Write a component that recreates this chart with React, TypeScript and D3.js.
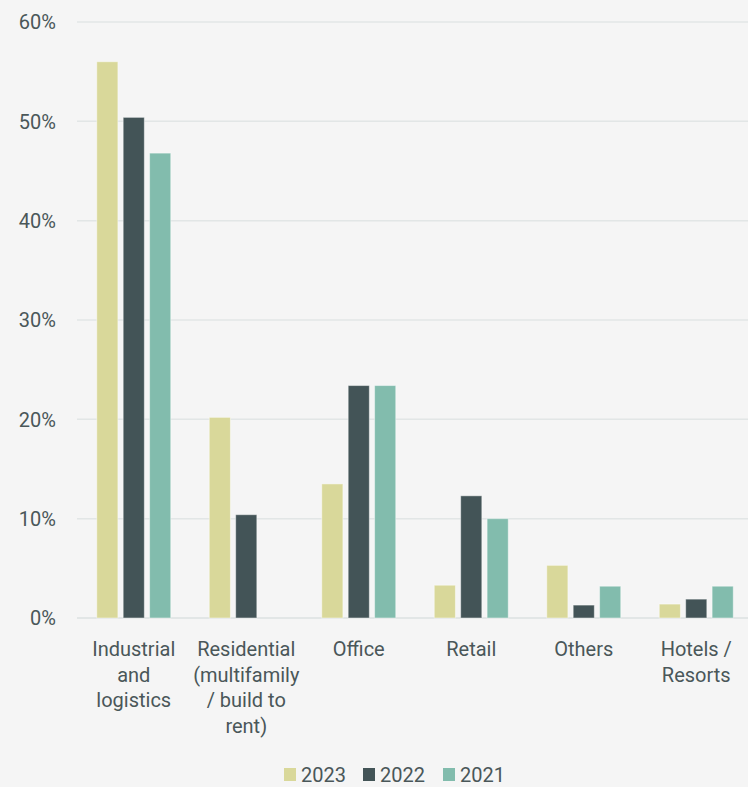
import React from "react";
import * as d3 from "d3";

const categories = [
  ["Industrial", "and", "logistics"],
  ["Residential", "(multifamily", "/ build to", "rent)"],
  ["Office"],
  ["Retail"],
  ["Others"],
  ["Hotels /", "Resorts"],
];
const seriesNames = ["2023", "2022", "2021"];
const values2023 = [56.0, 20.2, 13.5, 3.3, 5.3, 1.4];
const values2022 = [50.4, 10.4, 23.4, 12.3, 1.3, 1.9];
const values2021 = [46.8, 0, 23.4, 10.0, 3.2, 3.2];
const yTicks = [0, 10, 20, 30, 40, 50, 60];
const colors = ["#d9d89a", "#435457", "#82bcad"];

const W = 748;
const H = 787;
const FONT = "Roboto, 'Noto Sans', sans-serif";
const TEXT = "#4a5759";

export default function App() {
  const series = [values2023, values2022, values2021];
  const x0 = d3
    .scaleBand<number>()
    .domain(categories.map((_, i) => i))
    .range([77.5, 752.5])
    .paddingInner(0)
    .paddingOuter(0);
  const x1 = d3
    .scaleBand<number>()
    .domain([0, 1, 2])
    .range([-37, 37])
    .paddingInner(0.2);
  const y = d3.scaleLinear().domain([0, 60]).range([618, 22]);

  return (
    <svg
      width={W}
      height={H}
      style={{ position: "absolute", left: 0, top: 0, display: "block" }}
      fontFamily={FONT}
    >
      <rect x={0} y={0} width={W} height={H} fill="#f5f5f5" />
      {yTicks.map((t) => (
        <g key={t}>
          <line
            x1={77}
            x2={W}
            y1={y(t)}
            y2={y(t)}
            stroke="#e2e6e6"
            strokeWidth={t === 0 ? 2 : 1.5}
          />
          <text
            x={56}
            y={y(t)}
            dy="0.36em"
            textAnchor="end"
            fontSize={20}
            fill={TEXT}
          >
            {t}%
          </text>
        </g>
      ))}
      {categories.map((lines, i) => {
        const cx = x0(i)! + x0.bandwidth() / 2;
        return (
          <g key={i}>
            {series.map((vals, s) =>
              vals[i] > 0 ? (
                <rect
                  key={s}
                  x={cx + x1(s)!}
                  y={y(vals[i])}
                  width={x1.bandwidth()}
                  height={y(0) - y(vals[i])}
                  fill={colors[s]}
                  stroke="#ffffff"
                  strokeOpacity={0.45}
                  strokeWidth={1}
                />
              ) : null
            )}
            {lines.map((ln, k) => (
              <text
                key={k}
                x={cx}
                y={656 + k * 25.5}
                textAnchor="middle"
                fontSize={20}
                fill={TEXT}
              >
                {ln}
              </text>
            ))}
          </g>
        );
      })}
      {seriesNames.map((name, s) => {
        const lx = [284, 363, 443][s];
        return (
          <g key={name}>
            <rect x={lx} y={768} width={12} height={13} fill={colors[s]} />
            <text x={lx + 17} y={782} fontSize={20} fill={TEXT}>
              {name}
            </text>
          </g>
        );
      })}
    </svg>
  );
}
